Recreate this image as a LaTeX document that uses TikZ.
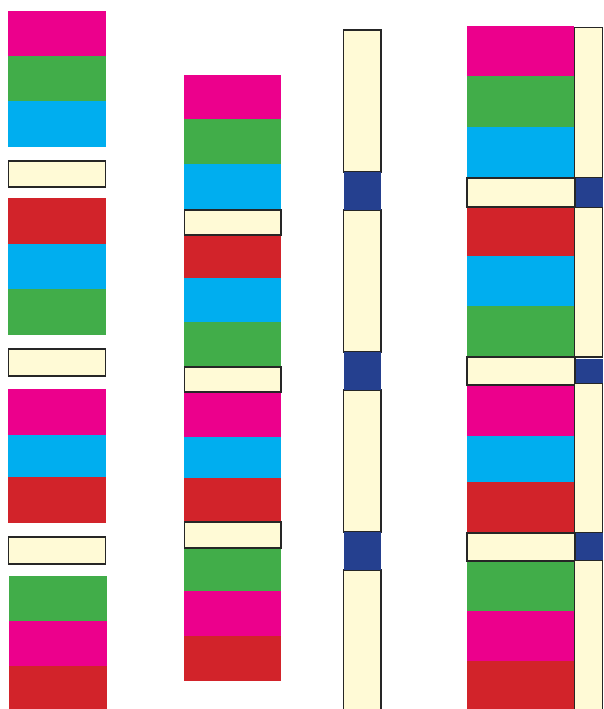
\documentclass[tikz,border=0pt]{standalone}
\usepackage{tikz}
\usepackage{xcolor}
\definecolor{magCol}{HTML}{EC008C}
\definecolor{grnCol}{HTML}{41AD49}
\definecolor{cynCol}{HTML}{00AEEF}
\definecolor{redCol}{HTML}{D2232A}
\definecolor{crmCol}{HTML}{FFFAD6}
\definecolor{bluCol}{HTML}{25408F}

\begin{document}
\begin{tikzpicture}[
    x=1pt, y=-1pt,
    mag/.style={fill=magCol},
    grn/.style={fill=grnCol},
    cyn/.style={fill=cynCol},
    rd/.style={fill=redCol},
    blu/.style={fill=bluCol},
    crm/.style={fill=crmCol, draw=black!85, line width=1.2pt},
  ]
\useasboundingbox (0,0) rectangle (603,709);

% Column 1: three-colour stacks split by spacers
\foreach \ya/\yb/\s in {11/56/mag, 56/101/grn, 101/147/cyn,
    198/244/rd, 244/289/cyn, 289/335/grn,
    389/435/mag, 435/477/cyn, 477/523/rd}
  \fill[\s] (8,\ya) rectangle (106,\yb);
\foreach \ya/\yb/\s in {576/621/grn, 621/666/mag, 666/709/rd}
  \fill[\s] (9,\ya) rectangle (107,\yb);
\foreach \ya/\yb in {161/187, 349/376, 537/564}
  \draw[crm] (8.5,\ya) rectangle (105.5,\yb);

% Column 2: stacks with spacers packed in
\foreach \ya/\yb/\s in {75/119/mag, 119/164/grn, 164/210/cyn,
    235/278/rd, 278/322/cyn, 322/367/grn,
    392/437/mag, 437/478/cyn, 478/522/rd,
    548/591/grn, 591/636/mag, 636/681/rd}
  \fill[\s] (184,\ya) rectangle (281,\yb);
\foreach \ya/\yb in {210/235, 367/392, 522/548}
  \draw[crm] (184.5,\ya) rectangle (281,\yb);

% Column 3: long spacers with blue links
\foreach \ya/\yb in {30/172, 210/352, 390/532, 570/715}
  \draw[crm] (343.5,\ya) rectangle (381,\yb);
\foreach \ya/\yb in {172/210, 352/390, 532/570}
  \fill[blu] (344,\ya) rectangle (380.7,\yb);

% Column 4: stacks beside a narrow strip
\foreach \ya/\yb/\s in {26/76/mag, 76/127/grn, 127/178/cyn,
    207/256/rd, 256/306/cyn, 306/357/grn,
    385/436/mag, 436/482/cyn, 482/533/rd,
    561/611/grn, 611/661/mag, 661/709/rd}
  \fill[\s] (467,\ya) rectangle (574,\yb);
\foreach \ya/\yb in {178/207, 357/385, 533/561}
  \draw[crm] (467,\ya) rectangle (575,\yb);
\foreach \ya/\yb in {27.5/178, 207/357, 383/533, 560/715}
  \draw[crm] (574.5,\ya) rectangle (602.5,\yb);
\foreach \ya/\yb in {178/207, 359/383, 533/560}
  \fill[blu] (575.5,\ya) rectangle (602.5,\yb);

\end{tikzpicture}
\end{document}
